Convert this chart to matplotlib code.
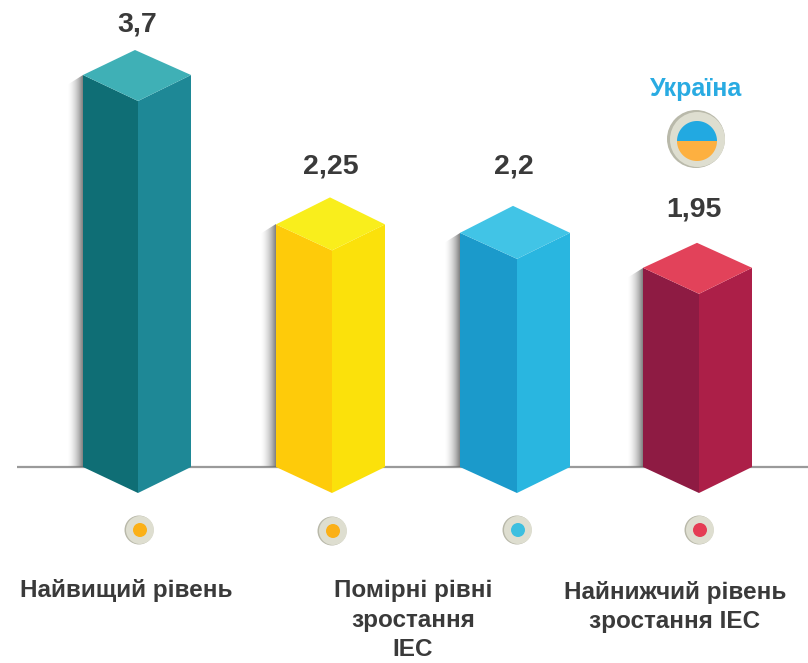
import matplotlib
matplotlib.use('Agg')
import matplotlib.pyplot as plt
import numpy as np
from matplotlib.patches import Polygon, Ellipse

# подписи и значения
value_labels = ['3,7', '2,25', '2,2', '1,95']
# высота столбиков (в единицах значения)
bar_heights = [3.7, 2.29, 2.21, 1.88]
categories = ['Найвищий рівень', 'Помірні рівні\nзростання\nIEC', '', 'Найнижчий рівень\nзростання IEC']
highlight = 'Україна'

# цвета: левая грань, правая грань, верх, точка
left_colors = ['#0f6e75', '#fecb0a', '#1b9acb', '#8e1b43']
right_colors = ['#1e8896', '#fbe10b', '#29b6e0', '#ac1f48']
top_colors = ['#3fb0b6', '#f9ee1c', '#41c4e6', '#e2425a']
dot_colors = ['#fbb017', '#fbb017', '#3cbfe0', '#e53d55']

plt.rcParams['font.family'] = ['Liberation Sans', 'DejaVu Sans']

fig = plt.figure(figsize=(8.08, 6.63), dpi=100)
ax = fig.add_axes([0, 0, 1, 1])
PX = 392 / 3.7  # пикселей на единицу
BASE = 467
ax.set_xlim(0, 808)
ax.set_ylim((BASE - 663) / PX, BASE / PX)
ax.axis('off')

def u(px):
    return px / PX

def yp(py):
    return (BASE - py) / PX

def disc(x, py, r, fc, z):
    ax.add_patch(Ellipse((x, yp(py)), 2 * r, u(2 * r), fc=fc, ec='none', zorder=z))

def half_disc(x, py, r, a0, a1, fc, z):
    t = np.radians(np.linspace(a0, a1, 60))
    pts = np.column_stack([x + r * np.cos(t), yp(py) + u(r) * np.sin(t)])
    ax.add_patch(Polygon(pts, fc=fc, ec='none', zorder=z))

x_left = [83, 276, 460, 643]
x_mid = [138, 332, 517, 699]
x_right = [191, 385, 570, 752]
x_apex = [135, 330, 513, 697]
top_rise = [25, 27, 27, 25]
dot_x = [140, 333, 518, 700]
dot_y = [530, 531, 530, 530]
value_x = [137, 330.5, 514, 694]
value_py = [25, 167, 167, 210]

# базовая линия
ax.plot([17, 808], [0, 0], color='#9a9a9a', lw=1.6, zorder=1, solid_capstyle='butt')

grad = np.linspace(0, 1, 32).reshape(1, -1) ** 1.6
cmap = matplotlib.colors.LinearSegmentedColormap.from_list('sh', [(0.5, 0.5, 0.5, 0), (0.42, 0.42, 0.42, 0.85)])

for i, h in enumerate(bar_heights):
    l, m, r = x_left[i], x_mid[i], x_right[i]
    drop = u(26)
    # тень слева от столбика, верх скошен
    im = ax.imshow(grad, extent=[l - 16, l, 0, h], cmap=cmap, aspect='auto', zorder=2, interpolation='bilinear')
    clip = Polygon([(l, h), (l, 0), (l - 16, 0), (l - 16, h - u(10))], transform=ax.transData, fc='none', ec='none')
    ax.add_patch(clip)
    im.set_clip_path(clip)
    ax.add_patch(Polygon([(l, h), (m, h - drop), (m, -drop), (l, 0)], fc=left_colors[i], ec='none', zorder=3))
    ax.add_patch(Polygon([(m, h - drop), (r, h), (r, 0), (m, -drop)], fc=right_colors[i], ec='none', zorder=3))
    ax.add_patch(Polygon([(l, h), (x_apex[i], h + u(top_rise[i])), (r, h), (m, h - drop)], fc=top_colors[i], ec='none', zorder=4))
    # кружок снизу
    disc(dot_x[i] - 1, dot_y[i], 14.5, '#b9b9aa', 3)
    disc(dot_x[i], dot_y[i], 14, '#deded0', 3)
    disc(dot_x[i], dot_y[i], 7, dot_colors[i], 4)
    ax.text(value_x[i], yp(value_py[i]), value_labels[i], ha='center', va='center', fontsize=20.5,
            fontweight='bold', color='#3a3a3a')

# значок Украины
disc(696, 139, 29, '#b9b9aa', 3)
disc(697.5, 139.5, 27.5, '#deded0', 3)
half_disc(697, 141, 20, 0, 180, '#22a9e1', 4)
half_disc(697, 141, 20, 180, 360, '#fdb040', 4)
ax.text(696.5, yp(89), highlight, ha='center', va='center', fontsize=18, fontweight='bold', color='#29abe2')

# подписи категорий
cat_x = [126.5, 413, 0, 675]
cat_py = [590, 620, 0, 607]
for i, t in enumerate(categories):
    if t:
        ax.text(cat_x[i], yp(cat_py[i]), t, ha='center', va='center', fontsize=17.5,
                fontweight='bold', color='#3a3a3a', linespacing=1.35)

plt.savefig('out.png', dpi=100)
